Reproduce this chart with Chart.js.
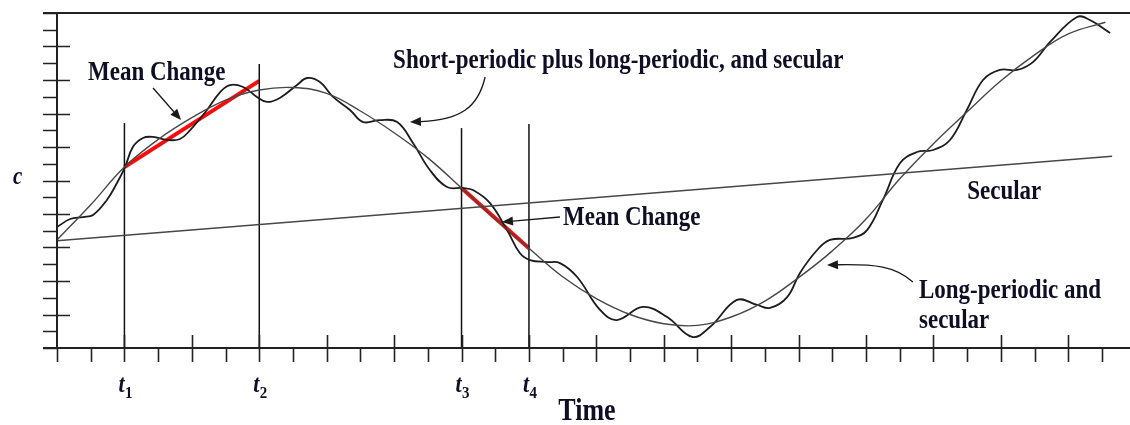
<!DOCTYPE html>
<html>
<head>
<meta charset="utf-8">
<script src="https://cdn.jsdelivr.net/npm/chart.js@4.4.1/dist/chart.umd.min.js"></script>
<style>
  html, body { margin: 0; padding: 0; background: #ffffff; }
  #wrap { width: 1130px; height: 425px; position: relative; }
</style>
</head>
<body>
<div id="wrap"><canvas id="chart"></canvas></div>
<script>
// ---- Data: element c versus time ----
const secularTime  = [0, 31.3];
const secularValue = [6.4, 11.45];

const longTime  = [0, 1, 2, 3, 4, 5, 6, 7, 8, 9, 10, 11, 12, 13, 14, 15, 16, 17, 18, 19, 20,
                   21, 22, 23, 24, 25, 26, 27, 28, 29, 30, 31.1];
const longValue = [6.45, 8.55, 10.8, 12.45, 13.75, 14.8, 15.4, 15.55, 15.2, 14.15, 12.85,
                   11.35, 9.55, 7.7, 5.95, 4.25, 2.95, 2.0, 1.45, 1.35, 1.85, 2.8, 4.2, 5.8,
                   7.7, 10.1, 12.2, 14.1, 15.95, 17.5, 18.75, 19.45];

const shortTime  = [0, 0.39, 0.77, 1.07, 1.48, 1.78, 2.02, 2.25, 2.55, 2.85, 3.26, 3.65, 3.95,
                    4.45, 4.84, 5.13, 5.52, 5.93, 6.23, 6.61, 7.12, 7.42, 7.8, 8.19, 8.69, 9.08,
                    9.58, 10.09, 10.56, 11.06, 11.57, 12.04, 12.34, 12.84, 13.35, 13.73, 14.03,
                    14.54, 14.92, 15.43, 16.11, 16.61, 17.38, 18.1, 18.84, 19.37, 20.17, 20.77,
                    21.15, 21.66, 22.04, 22.55, 22.93, 23.61, 24.03, 24.5, 25.01, 25.51, 25.99,
                    26.49, 26.99, 27.47, 27.97, 28.48, 28.95, 29.46, 30.26, 30.64, 31.24];
const shortValue = [7.22, 7.7, 7.82, 7.94, 8.84, 9.85, 10.81, 12.0, 12.54, 12.6, 12.42, 12.48,
                    13.01, 14.21, 15.28, 15.7, 15.58, 14.99, 14.69, 14.93, 15.7, 16.12, 15.88,
                    14.99, 14.21, 13.49, 13.61, 13.49, 12.24, 10.63, 9.61, 9.55, 9.43, 8.66,
                    7.04, 5.67, 5.25, 5.13, 5.07, 4.24, 2.27, 1.67, 2.45, 1.85, 0.66, 1.25, 2.87,
                    2.57, 2.39, 3.04, 4.48, 5.85, 6.45, 6.57, 7.04, 8.84, 11.04, 11.7, 11.82,
                    12.42, 14.21, 16.0, 16.6, 16.6, 17.07, 18.27, 19.76, 19.58, 18.81];

const meanChangeATime  = [2, 6];
const meanChangeAValue = [10.8, 15.95];
const meanChangeBTime  = [12, 14];
const meanChangeBValue = [9.55, 5.95];

const markTimes  = [2, 6, 12, 14];
const markTops   = [13.43, 16.96, 13.13, 13.37];
const markLabels = ['1', '2', '3', '4'];

const timeTicks  = Array.from({ length: 32 }, (_, i) => i);
const valueTicks = Array.from({ length: 21 }, (_, i) => i);

// ---- helpers ----
const pairs = (xs, ys) => xs.map((x, i) => ({ x, y: ys[i] }));
const lineSet = (data, color, width, extra) => Object.assign({
  data, borderColor: color, borderWidth: width, pointRadius: 0,
  fill: false, showLine: true, tension: 0
}, extra || {});

const datasets = [
  lineSet(pairs(secularTime, secularValue), '#474747', 1.4),
  lineSet(pairs(longTime, longValue), '#474747', 1.4, { tension: 0.4 }),
  lineSet(pairs(shortTime, shortValue), '#1c1c1c', 1.8, { tension: 0.4 }),
];
markTimes.forEach((t, i) => {
  datasets.push(lineSet([{ x: t, y: 0 }, { x: t, y: markTops[i] }], '#111111', 1.5));
});
datasets.push(lineSet(pairs(meanChangeATime, meanChangeAValue), '#ff0a0a', 4));
datasets.push(lineSet(pairs(meanChangeBTime, meanChangeBValue), '#ff0a0a', 4));

// ---- annotation layout (data coordinates) ----
const TEXT_COLOR = '#0e0e24';
const SERIF = '"Liberation Serif", "DejaVu Serif", serif';
const notes = [
  { text: 'Mean Change', x: 0.92, y: 16.0 },
  { text: 'Short-periodic plus long-periodic, and secular', x: 9.97, y: 16.72 },
  { text: 'Mean Change', x: 15.01, y: 7.34 },
  { text: 'Secular', x: 27.0, y: 8.9 },
  { text: 'Long-periodic and', x: 25.57, y: 2.99 },
  { text: 'secular', x: 25.57, y: 1.19 },
];
const arrows = [
  { pts: [[2.85, 15.52], [3.68, 13.61]] },
  { pts: [[12.70, 16.18], [12.49, 14.33], [11.95, 13.61], [10.47, 13.49]] },
  { pts: [[14.92, 7.82], [13.2, 7.52]] },
  { pts: [[25.39, 3.94], [24.86, 4.9], [24.27, 5.01], [22.84, 4.96]] },
];

function stretchedText(ctx, text, x, y, font, align) {
  ctx.save();
  ctx.font = font;
  ctx.textAlign = align || 'left';
  ctx.textBaseline = 'alphabetic';
  ctx.fillStyle = TEXT_COLOR;
  ctx.translate(x, y);
  ctx.scale(1, 1.18);
  ctx.fillText(text, 0, 0);
  ctx.restore();
}

const framePlugin = {
  id: 'frame',
  afterDatasetsDraw(chart) {
    const { ctx, chartArea: a, scales: { x: xs, y: ys } } = chart;
    ctx.save();
    ctx.strokeStyle = '#222222';
    ctx.lineCap = 'butt';

    // axis lines and top border
    ctx.lineWidth = 2;
    ctx.beginPath();
    ctx.moveTo(a.left - 14, a.top); ctx.lineTo(a.right, a.top);
    ctx.moveTo(a.left - 14, a.bottom); ctx.lineTo(a.right, a.bottom);
    ctx.moveTo(a.left, a.top); ctx.lineTo(a.left, a.bottom);
    ctx.stroke();

    // tick marks
    ctx.lineWidth = 1.6;
    ctx.beginPath();
    timeTicks.forEach(t => {
      const px = Math.round(xs.getPixelForValue(t)) + 0.5;
      ctx.moveTo(px, a.bottom); ctx.lineTo(px, a.bottom + 14);
      if (t > 0 && t % 2 === 0) { ctx.moveTo(px, a.bottom - 13); ctx.lineTo(px, a.bottom); }
    });
    valueTicks.forEach(v => {
      const py = Math.round(ys.getPixelForValue(v)) + 0.5;
      ctx.moveTo(a.left - 14, py); ctx.lineTo(a.left, py);
      if (v > 0 && v < 20 && v % 2 === 0) { ctx.moveTo(a.left, py); ctx.lineTo(a.left + 13, py); }
    });
    ctx.stroke();

    // arrows
    ctx.strokeStyle = '#1a1a1a';
    ctx.fillStyle = '#1a1a1a';
    ctx.lineWidth = 1.3;
    arrows.forEach(ar => {
      const p = ar.pts.map(([vx, vy]) => [xs.getPixelForValue(vx), ys.getPixelForValue(vy)]);
      const tip = p[p.length - 1];
      const prev = p[p.length - 2];
      const ang = Math.atan2(tip[1] - prev[1], tip[0] - prev[0]);
      const len = 11, half = 4.5;
      const bx = tip[0] - len * Math.cos(ang), by = tip[1] - len * Math.sin(ang);
      ctx.beginPath();
      ctx.moveTo(p[0][0], p[0][1]);
      if (p.length === 4) ctx.bezierCurveTo(p[1][0], p[1][1], p[2][0], p[2][1], bx, by);
      else ctx.lineTo(bx, by);
      ctx.stroke();
      ctx.beginPath();
      ctx.moveTo(tip[0], tip[1]);
      ctx.lineTo(bx + half * Math.sin(ang), by - half * Math.cos(ang));
      ctx.lineTo(bx - half * Math.sin(ang), by + half * Math.cos(ang));
      ctx.closePath();
      ctx.fill();
    });

    // notes inside the plot
    notes.forEach(n => {
      stretchedText(ctx, n.text, xs.getPixelForValue(n.x), ys.getPixelForValue(n.y), 'bold 23px ' + SERIF);
    });

    // time markers t1..t4 below the axis
    markTimes.forEach((t, i) => {
      const px = xs.getPixelForValue(t);
      stretchedText(ctx, 't', px - 6, a.bottom + 44, 'bold italic 22px ' + SERIF);
      stretchedText(ctx, markLabels[i], px + 0.5, a.bottom + 50, 'bold 15px ' + SERIF);
    });

    // axis titles
    stretchedText(ctx, 'Time', xs.getPixelForValue(15.72), a.bottom + 72, 'bold 26px ' + SERIF, 'center');
    stretchedText(ctx, 'c', a.left - 44, ys.getPixelForValue(9.8), 'bold italic 21px ' + SERIF);
    ctx.restore();
  }
};

new Chart(document.getElementById('chart'), {
  type: 'scatter',
  data: { datasets },
  options: {
    responsive: true,
    maintainAspectRatio: false,
    animation: false,
    layout: { padding: { left: 57, right: 0, top: 13, bottom: 77 } },
    plugins: { legend: { display: false }, tooltip: { enabled: false } },
    scales: {
      x: { type: 'linear', min: 0, max: 31.83, display: false },
      y: { type: 'linear', min: 0, max: 20, display: false }
    }
  },
  plugins: [framePlugin]
});
</script>
</body>
</html>
